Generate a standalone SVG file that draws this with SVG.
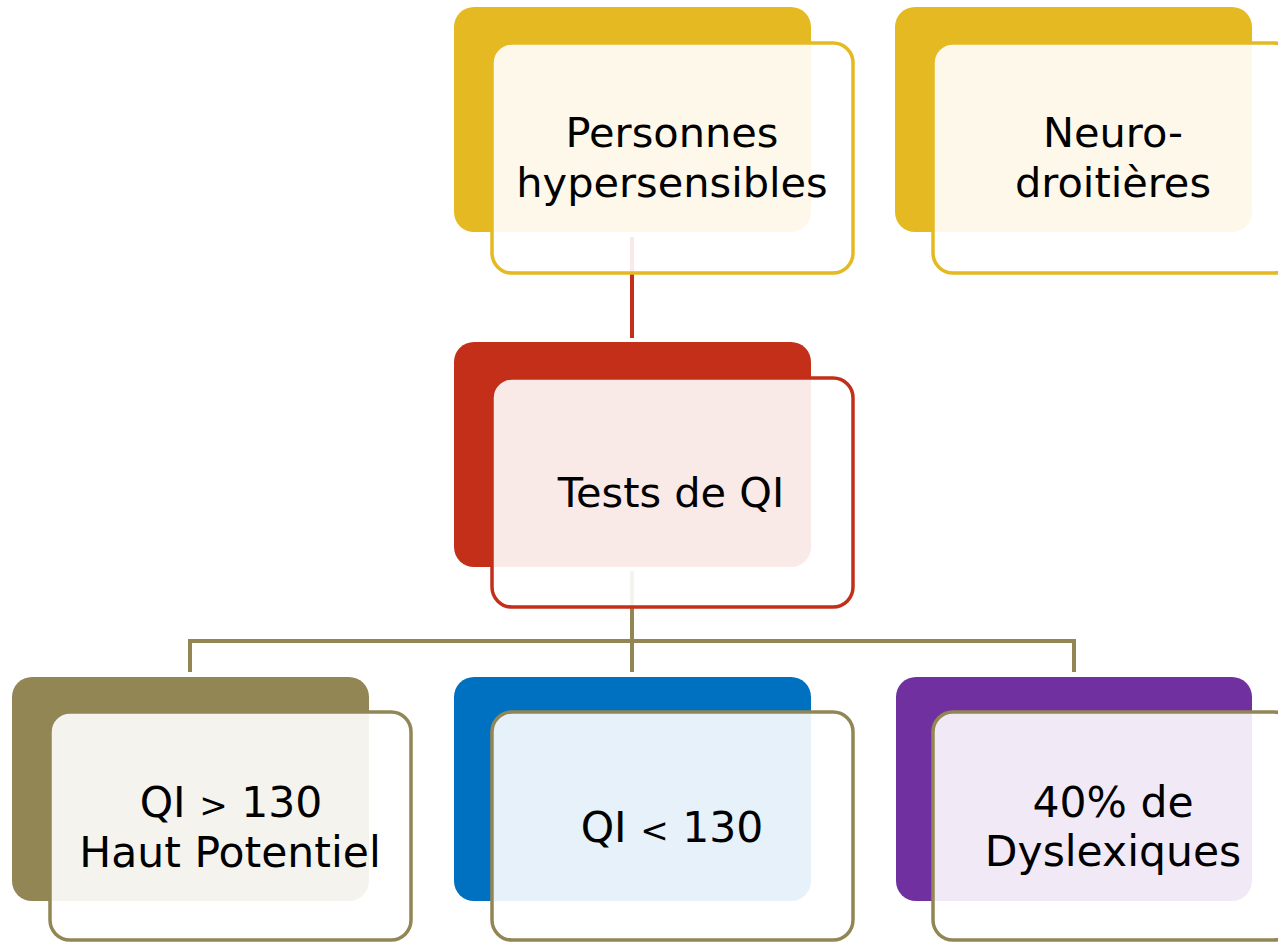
<svg xmlns="http://www.w3.org/2000/svg" width="1278" height="942" viewBox="0 0 1278 942">
<style>
.back{stroke:none}
.front{fill:#ffffff;fill-opacity:0.9;stroke-width:3.5}
.lbl{font-family:"DejaVu Sans","Noto Sans",sans-serif;fill:#000;text-anchor:middle}
.top{font-size:41.5px}
.bot{font-size:42.5px}
.cmp{font-size:34px}
.conn{fill:none;stroke-width:4}
</style>
<rect width="1278" height="942" fill="#ffffff"/>
<g id="connectors">
  <line class="conn" x1="632" y1="237" x2="632" y2="338" stroke="#C42F1A"/>
  <path class="conn" d="M632 571 V641 M190 672 V641 H1074 V672 M632 641 V672" stroke="#928655"/>
</g>
<g id="node-personnes">
  <rect class="back" x="454" y="7" width="357" height="225" rx="20" fill="#E5B922"/>
  <rect class="front" x="492" y="43" width="361" height="230" rx="20" stroke="#E5B922"/>
  <text class="lbl top" x="672" y="147">Personnes</text>
  <text class="lbl top" x="672" y="197">hypersensibles</text>
</g>
<g id="node-neuro">
  <rect class="back" x="895" y="7" width="357" height="225" rx="20" fill="#E5B922"/>
  <rect class="front" x="933" y="43" width="361" height="230" rx="20" stroke="#E5B922"/>
  <text class="lbl top" x="1113" y="147">Neuro-</text>
  <text class="lbl top" x="1113" y="197">droitières</text>
</g>
<g id="node-tests">
  <rect class="back" x="454" y="342" width="357" height="225" rx="20" fill="#C42F1A"/>
  <rect class="front" x="492" y="378" width="361" height="229" rx="20" stroke="#C42F1A"/>
  <text class="lbl top" x="671" y="507">Tests de QI</text>
</g>
<g id="node-qi-haut">
  <rect class="back" x="12" y="677" width="357" height="224" rx="20" fill="#928655"/>
  <rect class="front" x="50" y="712" width="361" height="228" rx="20" stroke="#928655"/>
  <text class="lbl bot" x="231" y="817">QI <tspan class="cmp">&gt;</tspan> 130</text>
  <text class="lbl bot" x="230" y="867">Haut Potentiel</text>
</g>
<g id="node-qi-bas">
  <rect class="back" x="454" y="677" width="357" height="224" rx="20" fill="#0070C0"/>
  <rect class="front" x="492" y="712" width="361" height="228" rx="20" stroke="#928655"/>
  <text class="lbl bot" x="672" y="842">QI <tspan class="cmp">&lt;</tspan> 130</text>
</g>
<g id="node-dyslexiques">
  <rect class="back" x="896" y="677" width="356" height="224" rx="20" fill="#7030A0"/>
  <rect class="front" x="933" y="712" width="361" height="228" rx="20" stroke="#928655"/>
  <text class="lbl bot" x="1113" y="817">40% de</text>
  <text class="lbl bot" x="1113" y="866">Dyslexiques</text>
</g>
</svg>
